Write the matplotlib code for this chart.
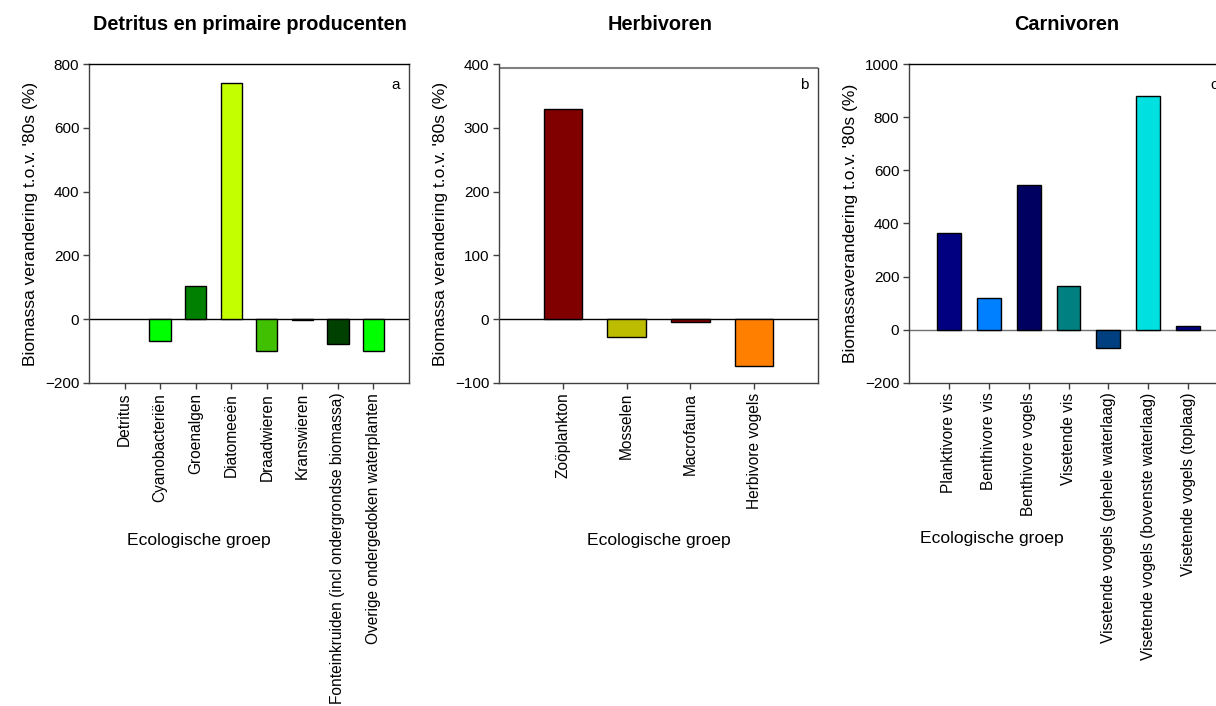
import matplotlib
matplotlib.use('Agg')
import matplotlib.pyplot as plt

plt.rcParams['font.family'] = ['Liberation Sans', 'DejaVu Sans']
plt.rcParams['font.size'] = 11

# panel a: detritus en primaire producenten
cat_a = ['Detritus', 'Cyanobacteriën', 'Groenalgen', 'Diatomeeën', 'Draadwieren',
         'Kranswieren', 'Fonteinkruiden (incl ondergrondse biomassa)',
         'Overige ondergedoken waterplanten']
val_a = [0, -67, 105, 741, -100, -4, -77, -100]
col_a = ['#00ff00', '#00ff00', '#008000', '#c4ff00', '#40c000', '#404040', '#004000', '#00ff00']

# panel b: herbivoren
cat_b = ['Zoöplankton', 'Mosselen', 'Macrofauna', 'Herbivore vogels']
val_b = [330, -28, -4, -73]
col_b = ['#800000', '#bcbc00', '#800000', '#ff8000']

# panel c: carnivoren
cat_c = ['Planktivore vis', 'Benthivore vis', 'Benthivore vogels', 'Visetende vis',
         'Visetende vogels (gehele waterlaag)', 'Visetende vogels (bovenste waterlaag)',
         'Visetende vogels (toplaag)']
val_c = [364, 121, 545, 165, -67, 881, 15]
col_c = ['#000080', '#0080ff', '#000060', '#008080', '#004080', '#00e0e0', '#000080']

fig = plt.figure(figsize=(12.16, 7.06), dpi=100)
W, H = 1216, 706


def add_panel(left, right, top, bottom):
    return fig.add_axes([left / W, 1 - bottom / H, (right - left) / W, (bottom - top) / H])


panels = [
    (add_panel(89, 409, 64, 383), cat_a, val_a, col_a, (-200, 800), range(-200, 801, 200),
     'a', 'Biomassa verandering t.o.v. \'80s (%)', 'black'),
    (add_panel(499, 818, 64, 383), cat_b, val_b, col_b, (-100, 400), range(-100, 401, 100),
     'b', 'Biomassa verandering t.o.v. \'80s (%)', 'black'),
    (add_panel(909, 1228, 64, 383), cat_c, val_c, col_c, (-200, 1000), range(-200, 1001, 200),
     'c', 'Biomassaverandering t.o.v. \'80s (%)', '#707070'),
]

for ax, cats, vals, cols, ylim, yt, tag, ylab, zcol in panels:
    x = list(range(len(cats)))
    # groups without change get no bar at all
    lw = [0 if v == 0 else 1 for v in vals]
    ax.bar(x, vals, width=0.6, color=cols, edgecolor='black', linewidth=lw, zorder=3)
    ax.axhline(0, color=zcol, linewidth=1, zorder=2)
    ax.set_xlim(-1, len(cats))
    ax.set_ylim(*ylim)
    ax.set_yticks(list(yt))
    ax.set_xticks(x)
    ax.set_xticklabels(cats, rotation=90, va='top', ha='center', fontsize=11.2)
    ax.tick_params(axis='both', direction='out', length=4, width=1, color='#404040', pad=3)
    for s in ax.spines.values():
        s.set_color('#404040')
        s.set_linewidth(1)
    ax.spines['top'].set_color('black')
    ax.set_ylabel(ylab, fontsize=12.6, labelpad=5)
    ax.text(0.97, 0.955, tag, transform=ax.transAxes, ha='right', va='top', fontsize=11)

# the herbivore panel has its upper frame line just below the 400 tick
ax_b = panels[1][0]
ax_b.spines['top'].set_visible(False)
ax_b.spines['right'].set_bounds(-100, 393)
ax_b.axhline(393, color='#808080', linewidth=1.5, zorder=2)

fig.text(250 / W, 1 - 24 / H, 'Detritus en primaire producenten', ha='center', va='center',
         fontsize=14.3, fontweight='bold')
fig.text(660 / W, 1 - 24 / H, 'Herbivoren', ha='center', va='center', fontsize=14.3, fontweight='bold')
fig.text(1067 / W, 1 - 24 / H, 'Carnivoren', ha='center', va='center', fontsize=14.3, fontweight='bold')

fig.text(199 / W, 1 - 541 / H, 'Ecologische groep', ha='center', va='center', fontsize=12.6)
fig.text(659 / W, 1 - 541 / H, 'Ecologische groep', ha='center', va='center', fontsize=12.6)
fig.text(992 / W, 1 - 539 / H, 'Ecologische groep', ha='center', va='center', fontsize=12.6)

fig.savefig('out.png', dpi=100)
